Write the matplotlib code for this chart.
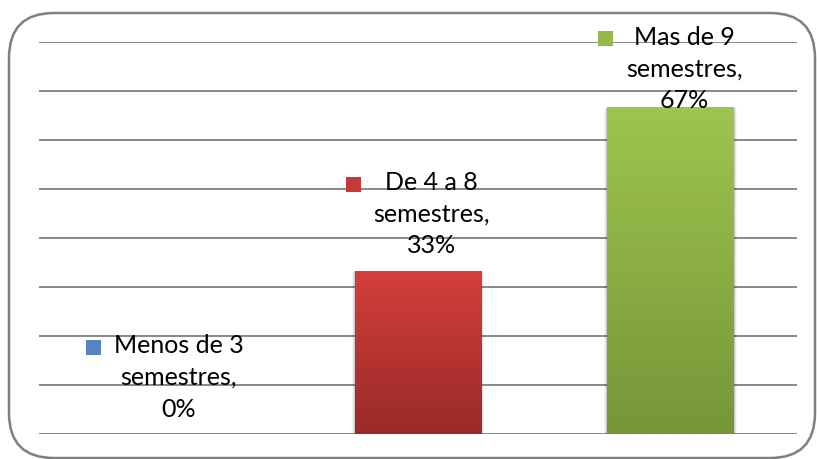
import numpy as np
import matplotlib
matplotlib.use("Agg")
import matplotlib.pyplot as plt
from matplotlib.patches import FancyBboxPatch, Rectangle
from matplotlib.offsetbox import AnnotationBbox, HPacker, TextArea, DrawingArea
from matplotlib.colors import LinearSegmentedColormap

# datos
categorias = ["Menos de 3\nsemestres,", "De 4 a 8\nsemestres,", "Mas de 9\nsemestres,"]
valores = [0.0, 0.3333, 0.6667]
etiquetas = ["0%", "33%", "67%"]
color_arriba = ["#5B8FD0", "#D43F3C", "#9EC54E"]
color_abajo = ["#3A659C", "#992A28", "#76963A"]

plt.rcParams["font.family"] = ["Lato", "DejaVu Sans"]

fig = plt.figure(figsize=(8.17, 4.60), dpi=100)
W, H = 817, 460

# marco redondeado del grafico
marco = FancyBboxPatch((9 / W, 1 - 459 / H), 806 / W, 445 / H,
                       boxstyle="round,pad=0,rounding_size=0.055",
                       transform=fig.transFigure, fill=False,
                       edgecolor="#7F7F7F", linewidth=1.8, mutation_aspect=W / H)
fig.patches.append(marco)

ax = fig.add_axes([38.7 / W, 1 - 435 / H, (797 - 38.7) / W, (435 - 42.7) / H])
ax.set_xlim(-0.5, 2.5)
ax.set_ylim(0, 0.8)
ax.set_yticks(np.arange(0, 0.81, 0.1))
ax.set_xticks([])
ax.tick_params(left=False, labelleft=False)
for s in ax.spines.values():
    s.set_visible(False)
ax.grid(axis="y", color="#7F7F7F", linewidth=1.3)
ax.set_axisbelow(True)
ax.patch.set_alpha(0)

x = np.arange(len(valores))
barras = ax.bar(x, valores, width=0.5, color="none", zorder=3)

# degradado vertical en cada barra + sombra suave
grad = np.linspace(1, 0, 256).reshape(-1, 1)
for i, b in enumerate(barras):
    if valores[i] <= 0:
        continue
    x0, y0 = b.get_x(), b.get_y()
    w, h = b.get_width(), b.get_height()
    for k, a in enumerate([0.10, 0.07, 0.04]):
        sh = Rectangle((x0 - 0.004 * (k + 1), y0 - 0.003 * (k + 1)),
                       w + 0.008 * (k + 1), h + 0.002 * (k + 1),
                       facecolor="black", alpha=a, edgecolor="none", zorder=2)
        ax.add_patch(sh)
    cmap = LinearSegmentedColormap.from_list("g", [color_abajo[i], color_arriba[i]])
    im = ax.imshow(grad, cmap=cmap, extent=(x0, x0 + w, y0, y0 + h),
                   aspect="auto", zorder=3, origin="upper")
    clip = Rectangle((x0, y0), w, h, transform=ax.transData)
    im.set_clip_path(clip)

ax.set_xlim(-0.5, 2.5)
ax.set_ylim(0, 0.8)

# etiquetas de datos con la clave de leyenda
for i in range(len(valores)):
    clave = DrawingArea(11, 20, 0, 0)
    cmap = LinearSegmentedColormap.from_list("k", [color_abajo[i], color_arriba[i]])
    clave.add_artist(Rectangle((0, 20 - 15.5), 10.8, 10.8,
                               facecolor=cmap(0.75), edgecolor="none"))
    texto = TextArea(categorias[i] + "\n" + etiquetas[i],
                     textprops=dict(fontsize=18, color="black",
                                    multialignment="center", linespacing=1.45))
    caja = HPacker(children=[clave, texto], align="top", pad=0, sep=9)
    y_top = min(valores[i] + 0.205, 0.835)
    ab = AnnotationBbox(caja, (x[i], y_top), box_alignment=(0.5, 1.0),
                        frameon=False, xycoords="data", annotation_clip=False,
                        zorder=5)
    ax.add_artist(ab)

fig.savefig("out.png", dpi=100)
